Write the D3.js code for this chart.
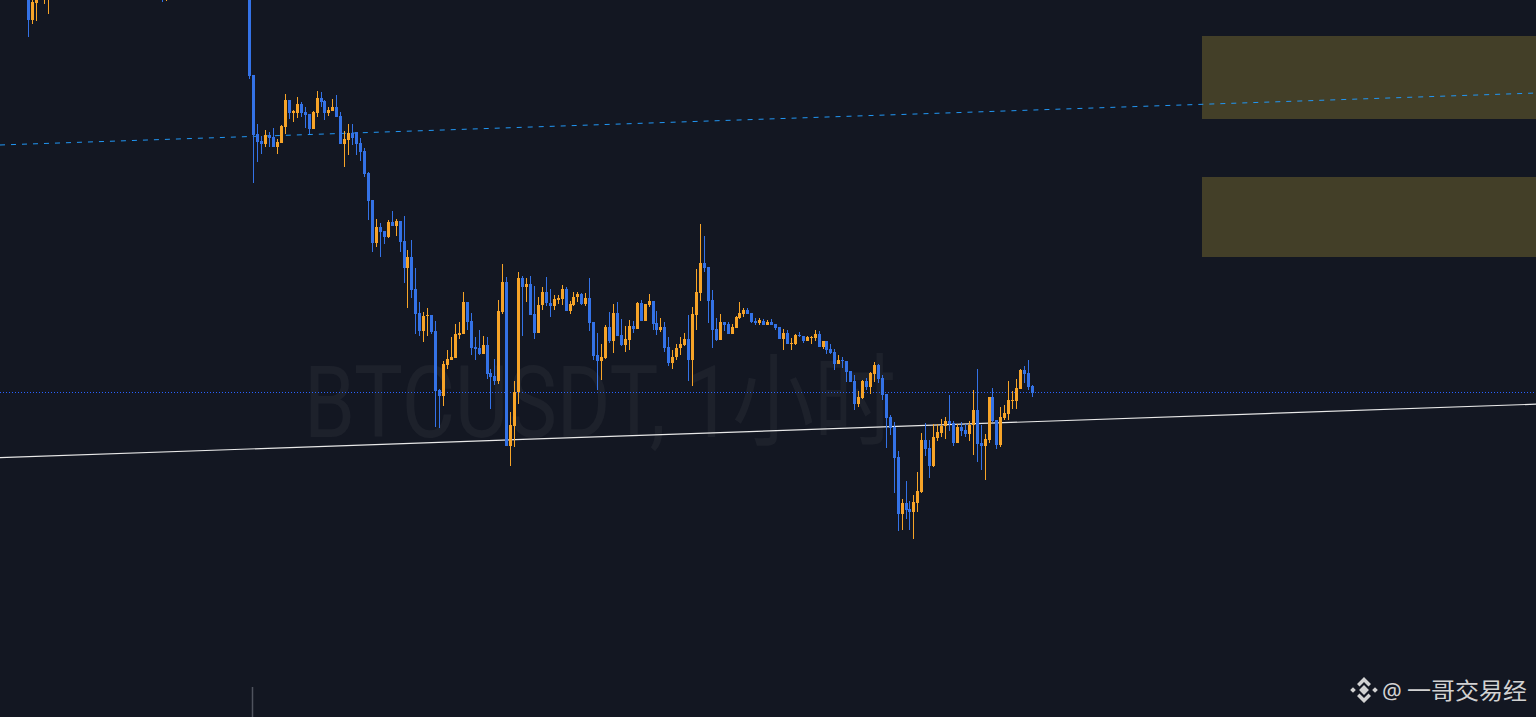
<!DOCTYPE html>
<html><head><meta charset="utf-8">
<script src="https://cdn.jsdelivr.net/npm/d3@7"></script>
<style>html,body{margin:0;padding:0;background:#131722;overflow:hidden}</style>
</head><body>
<svg id="c" width="1536" height="717"></svg>
<script>
// ---- data (BTCUSDT 1h, price in USDT) ----
const opens = [
72100,71800,71970,72080,72060,72120,72200,72280,72360,72300,
72420,72500,72470,72540,72620,72560,72500,72440,72520,72580,
72680,72640,72560,72480,72400,72460,72380,72300,72240,72320,
72260,72160,72220,72120,72100,72040,72120,72220,72300,72380,
72460,72420,72500,72600,72540,72620,72700,72660,72580,72640,
72560,72500,72580,72520,72460,72420,72400,71250,70660,70590,
70560,70650,70630,70530,70570,70730,71000,70870,70870,70960,
70880,70860,70710,70870,71020,70990,70870,70890,70930,70840,
70560,70600,70670,70680,70570,70490,70270,70000,69570,69730,
69690,69630,69780,69740,69790,69590,69320,69430,69110,68870,
68690,68840,68850,68690,68100,68040,68350,68400,68420,68650,
68660,68980,68790,68530,68520,68460,68550,68270,68240,68190,
68880,69180,67540,67740,68080,69220,69130,69160,68860,68670,
68950,69080,68970,68940,69000,69010,69110,68890,68950,69030,
69060,68960,69020,68780,68450,68390,68420,68730,68590,68870,
68650,68550,68600,68740,68710,68970,68790,68950,68990,68770,
68700,68730,68530,68370,68430,68520,68550,68610,68400,68850,
69070,69370,69330,69000,68710,68600,68780,68760,68660,68720,
68820,68860,68900,68870,68790,68770,68790,68750,68780,68760,
68730,68610,68670,68560,68560,68650,68640,68590,68620,68620,
68660,68530,68590,68510,68480,68360,68400,68390,68290,68190,
67960,68020,68190,68130,68260,68350,68220,68060,67830,67730,
67430,66860,66970,66910,66880,66970,67080,67600,67520,67340,
67620,67670,67740,67790,67770,67570,67730,67700,67660,67750,
67900,67570,67540,67600,68030,67800,67550,67820,67860,67990,
67990,68110,68300,68270,68140];
const highs = [
72200,72050,72150,72250,72240,72260,72320,72400,72440,72460,
72550,72600,72580,72660,72700,72640,72580,72560,72620,72720,
72800,72740,72660,72580,72520,72560,72480,72400,72360,72420,
72340,72280,72300,72240,72200,72160,72260,72340,72440,72500,
72580,72540,72640,72700,72660,72760,72800,72740,72700,72720,
72660,72620,72680,72600,72580,72520,72440,71250,70760,70640,
70700,70680,70720,70610,70750,71060,71000,70900,71030,70980,
70930,70860,70890,71090,71080,71000,70930,71010,71050,70880,
70690,70760,70760,70680,70620,70520,70280,70000,69810,69770,
69690,69800,69890,69810,69790,69840,69500,69600,69320,68980,
68880,68920,68850,68790,68110,68390,68500,68630,68760,68780,
69080,68980,68870,68630,68700,68640,68630,68310,68410,69000,
69360,69230,67880,68190,69280,69240,69220,69240,69140,69030,
69130,69230,69110,69050,69050,69150,69130,68990,69080,69080,
69070,69070,69220,68780,68670,68560,68750,68880,68960,68980,
68810,68740,68800,68790,68980,69000,68960,69060,68990,68890,
68820,68780,68630,68500,68560,68630,68670,68850,68930,69310,
69760,69640,69330,69100,68820,68860,68780,68780,68760,68840,
68980,68920,68920,68870,68820,68820,68810,68800,68810,68760,
68730,68710,68700,68620,68660,68680,68640,68640,68640,68700,
68690,68590,68590,68560,68510,68450,68430,68390,68290,68250,
68090,68200,68220,68280,68380,68360,68250,68060,67850,67780,
67490,67010,67190,66990,67050,67280,67670,67770,67600,67760,
67760,67810,67830,68050,67790,67760,67780,67760,67790,68100,
68310,67750,67660,68030,68120,67800,67930,67950,68190,68090,
68210,68310,68340,68400,68150];
const lows = [
71630,71760,71790,72030,71960,71860,72140,72220,72260,72280,
72360,72440,72400,72500,72520,72460,72380,72360,72450,72540,
72600,72520,72420,72360,72300,72340,72260,72180,72160,72200,
72100,72080,72060,72040,71980,71990,72080,72160,72240,72300,
72400,72340,72440,72500,72460,72560,72600,72540,72500,72520,
72440,72420,72460,72400,72380,72340,71210,70170,70380,70460,
70530,70530,70530,70460,70570,70660,70810,70780,70820,70830,
70720,70660,70710,70830,70930,70800,70840,70890,70830,70560,
70330,70450,70550,70450,70390,70230,69800,69480,69530,69430,
69560,69620,69740,69640,69480,69170,68920,69020,68660,68640,
68580,68640,68660,67730,67720,67940,68310,68400,68420,68610,
68660,68700,68450,68400,68450,68460,68210,67910,68150,68160,
68860,67540,67340,67530,67960,68640,68980,68850,68610,68670,
68900,68940,68830,68900,68960,68950,68890,68860,68940,68980,
68950,68940,68690,68400,68100,68200,68410,68570,68470,68640,
68540,68480,68500,68670,68710,68790,68790,68930,68700,68650,
68680,68480,68340,68310,68400,68450,68540,68190,68140,68700,
68990,69280,68770,68520,68590,68600,68690,68660,68660,68720,
68810,68830,68860,68770,68750,68750,68750,68750,68750,68700,
68610,68500,68560,68500,68550,68630,68570,68590,68560,68590,
68530,68510,68460,68460,68300,68360,68320,68180,68180,67900,
67930,68010,68100,68060,68180,68170,68000,67520,67650,67070,
66690,66700,66810,66700,66610,66880,67070,67440,67220,67330,
67590,67630,67610,67690,67540,67570,67640,67630,67590,67450,
67380,67300,67200,67570,67780,67510,67530,67800,67800,67910,
67910,68110,68170,68100,68030];
const closes = [
71800,71980,72080,72180,72160,72200,72280,72360,72300,72420,
72500,72470,72540,72620,72560,72500,72440,72520,72580,72680,
72640,72560,72480,72400,72460,72380,72300,72240,72320,72260,
72160,72220,72120,72100,72040,72120,72220,72300,72380,72460,
72420,72500,72600,72540,72620,72700,72660,72580,72640,72560,
72500,72580,72520,72460,72420,72400,71240,70650,70580,70560,
70650,70620,70530,70580,70740,71000,70870,70890,70960,70870,
70850,70710,70880,71020,70980,70870,70900,70930,70830,70560,
70610,70670,70620,70560,70480,70260,69990,69570,69730,69680,
69630,69780,69740,69790,69580,69320,69430,69100,68860,68690,
68840,68850,68680,68090,68040,68360,68410,68430,68660,68670,
68980,68780,68520,68510,68460,68550,68260,68230,68190,68890,
69180,67540,67750,68080,69220,69130,69160,68850,68670,68950,
69080,68970,68940,69010,69020,69110,68890,68960,69030,69060,
68960,69020,68770,68440,68390,68430,68730,68590,68870,68640,
68550,68610,68740,68710,68970,68790,68960,68990,68760,68700,
68730,68520,68370,68430,68520,68560,68610,68400,68860,69080,
69370,69320,68990,68700,68600,68780,68750,68660,68730,68830,
68870,68900,68860,68780,68770,68800,68750,68780,68750,68720,
68610,68670,68560,68570,68650,68640,68590,68630,68630,68660,
68530,68590,68500,68470,68360,68400,68390,68280,68180,67960,
68030,68190,68130,68270,68350,68210,68050,67820,67720,67420,
66860,66970,66900,66880,66980,67090,67600,67510,67340,67630,
67680,67740,67790,67760,67570,67730,67690,67660,67750,67900,
67560,67540,67610,68030,67790,67550,67830,67870,68000,68000,
68120,68300,68260,68130,68070];

// drawings (anchored by bar index and price)
const lastPriceLine = 68080;
const trendWhite = [[121, 67600], [230, 67750]];
const trendBlue = [[57, 70636], [220, 70854]];
const zoneStart = 297;
const zoneTops = [71640, 70230];
const zoneBottoms = [70810, 69430];
const volMarkIdx = 57, volMarkLow = 64830, volMarkHigh = 65130;

const watermark = "BTCUSDT, 1小时";
const signature = "一哥交易经";

// ---- chart ----
const W = 1536, H = 717;
const UP = "#f7a428", DN = "#3472e6";
const svg = d3.select("#c");
svg.append("rect").attr("width", W).attr("height", H).attr("fill", "#131722");

const x = d3.scaleLinear().domain([0, opens.length - 1]).range([28.5, 1032.5]);
const y = d3.scaleLinear().domain([72000, 64830]).range([0, H]);

// watermark
svg.append("text")
  .attr("x", 600).attr("y", 437)
  .attr("text-anchor", "middle")
  .attr("font-family", "Roboto, 'Noto Sans', 'Noto Sans CJK SC', sans-serif")
  .attr("font-size", 100)
  .attr("textLength", 592).attr("lengthAdjust", "spacingAndGlyphs")
  .attr("fill", "rgba(255,255,255,0.045)")
  .text(watermark);

// zones
const zones = zoneTops.map((t, k) => ({ t, b: zoneBottoms[k] }));
svg.append("g").selectAll("rect").data(zones).join("rect")
  .attr("x", Math.round(x(zoneStart))).attr("width", W - Math.round(x(zoneStart)))
  .attr("y", d => Math.round(y(d.t))).attr("height", d => Math.round(y(d.b)) - Math.round(y(d.t)))
  .attr("fill", "#433f28");

// extended trend lines
function extLine(p, color, width, dash) {
  const x1 = x(p[0][0]), y1 = y(p[0][1]), x2 = x(p[1][0]), y2 = y(p[1][1]);
  const k = (y2 - y1) / (x2 - x1);
  svg.append("line")
    .attr("x1", 0).attr("y1", y1 - k * x1)
    .attr("x2", W).attr("y2", y1 + k * (W - x1))
    .attr("stroke", color).attr("stroke-width", width)
    .attr("stroke-dasharray", dash || null);
}
extLine(trendBlue, "#2196f3", 1, "5,6");
extLine(trendWhite, "#e8e8e8", 1.2);

// last price dotted line
svg.append("line")
  .attr("x1", 0).attr("x2", W)
  .attr("y1", Math.round(y(lastPriceLine)) + 0.5).attr("y2", Math.round(y(lastPriceLine)) + 0.5)
  .attr("stroke", "#2962ff").attr("stroke-width", 1).attr("stroke-dasharray", "1,2");

// volume-like marker at bottom
svg.append("line")
  .attr("x1", Math.floor(x(volMarkIdx)) - 0.5).attr("x2", Math.floor(x(volMarkIdx)) - 0.5)
  .attr("y1", y(volMarkHigh)).attr("y2", y(volMarkLow))
  .attr("stroke", "#4f535e").attr("stroke-width", 1.5);

// candles
const data = opens.map((o, i) => ({ i, o, h: highs[i], l: lows[i], c: closes[i] }));
const g = svg.append("g").attr("shape-rendering", "crispEdges");
const bx = d => Math.round(x(d.i) - 1.5);
const col = d => d.c >= d.o ? UP : DN;
g.selectAll("rect.w").data(data).join("rect").attr("class", "w")
  .attr("x", d => bx(d) + 1).attr("width", 1)
  .attr("y", d => Math.round(y(d.h)))
  .attr("height", d => Math.max(1, Math.round(y(d.l)) - Math.round(y(d.h))))
  .attr("fill", col);
g.selectAll("rect.b").data(data).join("rect").attr("class", "b")
  .attr("x", bx).attr("width", 3)
  .attr("y", d => Math.round(y(Math.max(d.o, d.c))))
  .attr("height", d => Math.max(1, Math.round(y(Math.min(d.o, d.c))) - Math.round(y(Math.max(d.o, d.c)))))
  .attr("fill", col);

// signature with logo
const sg = svg.append("g").attr("fill", "#d2d2d2");
const lx = 1364, ly = 690;
const logo = sg.append("g").attr("transform", `translate(${lx},${ly})`);
logo.append("rect").attr("x", -3.5).attr("y", -3.5).attr("width", 7).attr("height", 7).attr("transform", "rotate(45)");
logo.append("rect").attr("x", -2).attr("y", -2).attr("width", 4).attr("height", 4).attr("transform", "translate(-11,0) rotate(45)");
logo.append("rect").attr("x", -2).attr("y", -2).attr("width", 4).attr("height", 4).attr("transform", "translate(11,0) rotate(45)");
logo.append("path").attr("d", "M0,-13 L7,-6 L4.5,-3.5 L0,-8 L-4.5,-3.5 L-7,-6 Z");
logo.append("path").attr("d", "M0,13 L7,6 L4.5,3.5 L0,8 L-4.5,3.5 L-7,6 Z");
sg.append("text").attr("x", 1382).attr("y", 699)
  .attr("font-family", "'Noto Sans', sans-serif").attr("font-size", 22).text("@");
sg.append("text").attr("x", 1407).attr("y", 699)
  .attr("font-family", "'Noto Sans CJK SC', sans-serif").attr("font-size", 23)
  .attr("textLength", 120).attr("lengthAdjust", "spacingAndGlyphs")
  .text(signature);
</script>
</body></html>
